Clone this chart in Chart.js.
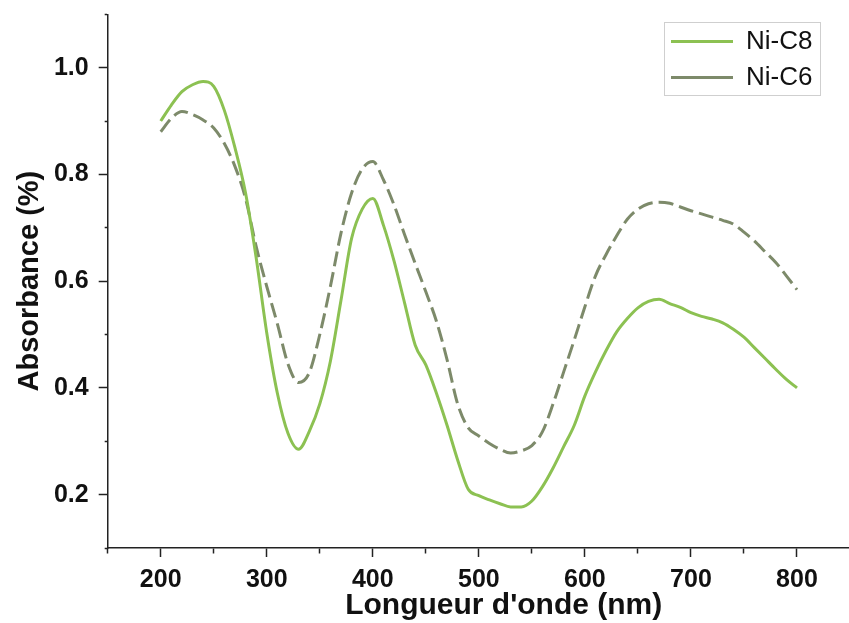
<!DOCTYPE html>
<html><head><meta charset="utf-8">
<script src="https://cdn.jsdelivr.net/npm/chart.js@4/dist/chart.umd.min.js"></script>
<style>
html,body{margin:0;padding:0;overflow:hidden;background:#fff;width:849px;height:623px}
#wrap{position:absolute;left:0;top:0;width:858px;height:623px}
</style>
</head><body><div id="wrap"><canvas id="c" width="858" height="623"></canvas></div>
<script>
const wavelengths = [200,210,220,230,240,250,260,270,280,290,300,310,320,330,340,350,360,370,380,390,400,410,420,430,440,450,460,470,480,490,500,510,520,530,540,550,560,570,580,590,600,610,620,630,640,650,660,670,680,690,700,710,720,730,740,750,760,770,780,790,800];
const niC8 = [0.90,0.93,0.955,0.968,0.974,0.965,0.92,0.85,0.765,0.644,0.503,0.39,0.315,0.285,0.318,0.37,0.45,0.564,0.68,0.735,0.755,0.705,0.638,0.559,0.48,0.443,0.39,0.33,0.265,0.21,0.198,0.19,0.183,0.177,0.177,0.188,0.215,0.25,0.29,0.33,0.385,0.43,0.47,0.505,0.53,0.55,0.562,0.566,0.558,0.551,0.541,0.534,0.529,0.522,0.51,0.495,0.475,0.455,0.435,0.416,0.40];
const niC6 = [0.88,0.905,0.918,0.912,0.902,0.887,0.858,0.815,0.755,0.665,0.59,0.52,0.445,0.41,0.428,0.50,0.59,0.69,0.765,0.81,0.824,0.79,0.743,0.687,0.633,0.58,0.525,0.453,0.37,0.325,0.31,0.296,0.285,0.278,0.282,0.292,0.318,0.37,0.43,0.49,0.552,0.61,0.65,0.685,0.716,0.735,0.745,0.748,0.746,0.739,0.732,0.726,0.72,0.714,0.707,0.692,0.675,0.655,0.635,0.61,0.584];
const xTickLabels = [200,300,400,500,600,700,800];
const yTickLabels = ['0.2','0.4','0.6','0.8','1.0'];
const seriesNames = ['Ni-C8','Ni-C6'];
const xTitle = "Longueur d'onde (nm)";
const yTitle = 'Absorbance (%)';

const C8_COLOR = '#8cc152';
const C6_COLOR = '#7d8a6a';
const FONT = '"Liberation Sans", Arial, sans-serif';

const legendPlacer = {
  id: 'legendPlacer',
  afterLayout(chart) {
    const lg = chart.legend;
    if (!lg) return;
    const w = lg.width, h = lg.height;
    lg.left = 661; lg.top = 18.5; lg.right = lg.left + w; lg.bottom = lg.top + h;
  },
  afterDraw(chart) {
    const lg = chart.legend;
    const ctx = chart.ctx;
    ctx.save();
    ctx.strokeStyle = '#cfcfcf';
    ctx.lineWidth = 1;
    ctx.strokeRect(Math.round(lg.left + 3) + 0.5, Math.round(lg.top + 3) + 0.5, 156, 73);
    // x-axis title (placed as in the reference, slightly right of the axis centre)
    const xs = chart.scales.x;
    ctx.fillStyle = '#111';
    ctx.font = 'bold 30px ' + FONT;
    ctx.textAlign = 'center';
    ctx.textBaseline = 'middle';
    ctx.fillText(xTitle, chart.chartArea.left + 396, xs.bottom - 17);
    ctx.restore();
  }
};

new Chart(document.getElementById('c'), {
  type: 'line',
  data: {
    datasets: [
      { label: seriesNames[0], data: wavelengths.map((x, i) => ({x, y: niC8[i]})),
        borderColor: C8_COLOR, backgroundColor: C8_COLOR, borderWidth: 3, pointRadius: 0,
        cubicInterpolationMode: 'monotone', fill: false, pointStyle: 'line' },
      { label: seriesNames[1], data: wavelengths.map((x, i) => ({x, y: niC6[i]})),
        borderColor: C6_COLOR, backgroundColor: C6_COLOR, borderWidth: 3, pointRadius: 0,
        borderDash: [15, 6], cubicInterpolationMode: 'monotone', fill: false, pointStyle: 'line' }
    ]
  },
  options: {
    responsive: false, animation: false, devicePixelRatio: 1,
    layout: { padding: { left: 0, top: 14.3, right: 3.3, bottom: 0 } },
    plugins: {
      tooltip: { enabled: false },
      legend: {
        position: 'chartArea', align: 'start',
        labels: { usePointStyle: true, pointStyle: 'line', pointStyleWidth: 62, boxHeight: 26,
          padding: 10, color: '#111', font: { family: FONT, size: 26 } }
      }
    },
    scales: {
      x: {
        type: 'linear', min: 150, max: 850,
        afterFit(s) { s.height = 75; },
        border: { display: true, color: '#222', width: 1.5 },
        grid: { drawOnChartArea: false, drawTicks: true, tickLength: 9, tickColor: '#222', tickWidth: 1.5,
          tickBorderDash: (ctx) => (ctx.tick && xTickLabels.includes(ctx.tick.value)) ? [] : [5, 100] },
        ticks: { stepSize: 50, autoSkip: false, maxRotation: 0, padding: 8, color: '#111',
          font: { family: FONT, size: 25, weight: 'bold' },
          callback: (v) => xTickLabels.includes(v) ? String(v) : [] },
        title: { display: false }
      },
      y: {
        min: 0.1, max: 1.1,
        afterFit(s) { s.width = 107.7; },
        border: { display: true, color: '#222', width: 1.5 },
        grid: { drawOnChartArea: false, drawTicks: true, tickLength: 9, tickColor: '#222', tickWidth: 1.5,
          tickBorderDash: (ctx) => (ctx.tick && yTickLabels.includes(ctx.tick.value.toFixed(1))) ? [] : [0, 6, 3, 100] },
        ticks: { stepSize: 0.1, autoSkip: false, padding: 10, color: '#111',
          font: { family: FONT, size: 25, weight: 'bold' },
          callback: (v) => yTickLabels.includes(Number(v).toFixed(1)) ? Number(v).toFixed(1) : [] },
        title: { display: true, text: yTitle, color: '#111', padding: { top: 13, bottom: 0 },
          font: { family: FONT, size: 29, weight: 'bold' } }
      }
    }
  },
  plugins: [legendPlacer]
});
</script>
</body></html>
